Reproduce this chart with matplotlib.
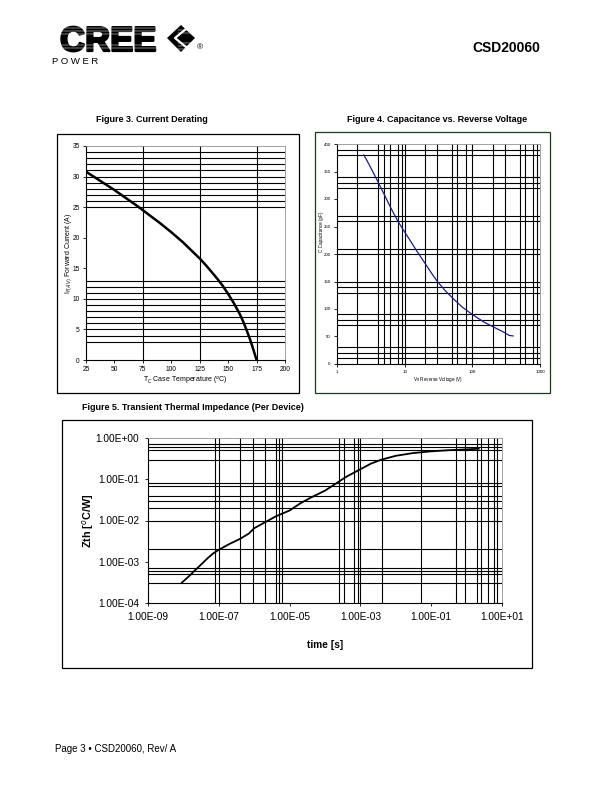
import matplotlib
matplotlib.use('Agg')
import matplotlib.pyplot as plt
import matplotlib.patheffects as pe
from matplotlib.patches import Rectangle, Polygon
from matplotlib.lines import Line2D
from matplotlib.ticker import FixedLocator, NullLocator, FuncFormatter

plt.rcParams['font.family'] = ['Liberation Sans', 'DejaVu Sans']

W, H = 612, 792

# Figure 3 - current derating
temp_c = [25, 30, 40, 50, 60, 70, 80, 90, 100, 110, 120, 125, 130, 140, 145, 150, 155, 160,
          163, 166, 169, 171, 173, 174, 175]
current_a = [30.8, 30.2, 29.0, 27.8, 26.5, 25.2, 23.8, 22.4, 20.9, 19.3, 17.5, 16.6, 15.6, 13.4,
             12.2, 10.8, 9.3, 7.6, 6.4, 5.0, 3.5, 2.4, 1.2, 0.6, 0.0]
f3_vgrid = [75, 125, 175]
f3_hgrid = [3, 4, 5, 6, 7, 8, 9, 10, 11, 12, 13, 25, 26, 27, 28, 29, 30, 31, 32, 33, 34]

# Figure 4 - capacitance vs reverse voltage
voltage_v = [2.5, 3, 4, 5, 6, 7, 8, 10, 12, 15, 20, 25, 30, 40, 50, 70, 100, 150, 200, 250, 300, 350, 400]
cap_pf = [380, 362, 332, 308, 288, 272, 259, 240, 225, 206, 183, 165, 151, 133, 121, 104, 90, 76, 68,
          62, 57, 52, 51]
f4_vgrid = [2, 4, 5, 6, 8, 9, 10, 20, 30, 50, 60, 80, 100, 200, 300, 500, 600, 800, 900]
f4_hgrid = [10, 20, 30, 70, 80, 90, 130, 140, 150, 200, 210, 260, 270, 320, 330, 340, 380, 390]

# Figure 5 - transient thermal impedance
time_s = [9e-9, 1.5e-8, 2e-8, 3e-8, 5e-8, 7e-8, 1e-7, 2e-7, 4e-7, 7e-7, 1e-6, 2e-6, 4e-6, 1e-5,
          2e-5, 4e-5, 1e-4, 2e-4, 4e-4, 1e-3, 2e-3, 4e-3, 1e-2, 3e-2, 0.1, 0.3, 1, 2.2]
zth = [3.1e-4, 4.6e-4, 5.9e-4, 8.2e-4, 1.25e-3, 1.6e-3, 1.95e-3, 2.7e-3, 3.6e-3, 4.8e-3, 6.5e-3,
       9e-3, 1.25e-2, 1.75e-2, 2.6e-2, 3.6e-2, 5.3e-2, 7.8e-2, 0.115, 0.175, 0.24, 0.30, 0.37,
       0.43, 0.475, 0.505, 0.53, 0.55]
f5_vgrid = [8e-8, 1e-7, 4e-7, 9e-7, 2e-6, 4e-6, 5e-6, 6e-6, 2.5e-4, 3.5e-4, 6.5e-4, 8.5e-4, 1e-3,
            4e-3, 5e-2, 0.5, 0.9, 2, 2.5, 4, 6, 7]
f5_hgrid = [0.7, 0.6, 0.5, 0.3, 0.08, 0.07, 0.04, 0.03, 0.02, 0.01, 0.002, 7e-4, 6e-4, 5e-4, 3e-4]


def box(x0, y0, x1, y1):
    # axes rect from page pixel corners
    return [x0 / W, 1 - y1 / H, (x1 - x0) / W, (y1 - y0) / H]


def frame(x0, y0, x1, y1, color='black'):
    fig.add_artist(Rectangle((x0 / W, 1 - y1 / H), (x1 - x0) / W, (y1 - y0) / H,
                             transform=fig.transFigure, fill=False, ec=color, lw=0.9))


def ftext(x, y, s, **kw):
    return fig.text(x / W, 1 - y / H, s, **kw)


def hline(x0, x1, y, **kw):
    fig.add_artist(Line2D([x0 / W, x1 / W], [1 - y / H, 1 - y / H], transform=fig.transFigure, **kw))


def style(ax, fs):
    for s in ['top', 'right']:
        ax.spines[s].set_color('#909090')
        ax.spines[s].set_linewidth(0.6)
    for s in ['left', 'bottom']:
        ax.spines[s].set_linewidth(0.8)
    ax.tick_params(labelsize=fs, length=2.5, width=0.6, pad=2)
    ax.tick_params(which='minor', length=0)


fig = plt.figure(figsize=(6.12, 7.92), dpi=100)

# header / logo
logo = ftext(60, 51, 'CREE', fontsize=25, fontweight='bold', va='baseline', ha='left')
logo.set_path_effects([pe.withStroke(linewidth=1.6, foreground='black')])
for yy in [28, 31, 34, 45, 48]:
    hline(57, 166, yy, color='white', lw=0.35, zorder=10)
fig.add_artist(Polygon([(167 / W, 1 - 38 / H), (181 / W, 1 - 25 / H), (195 / W, 1 - 38 / H),
                        (181 / W, 1 - 52 / H)], closed=True, fc='black', transform=fig.transFigure))
for yy in [30, 33, 43, 46, 49]:
    hline(178, 195, yy, color='white', lw=0.35, zorder=10)
fig.add_artist(Line2D([186 / W, 175 / W, 186 / W], [1 - 29 / H, 1 - 38 / H, 1 - 47 / H], color='white',
                      lw=1.6, transform=fig.transFigure, zorder=11))
ftext(197, 48, '®', fontsize=6, va='center')
ftext(52, 61, 'P O W E R', fontsize=6.8, va='center')
ftext(540, 48, 'CSD20060', fontsize=10, fontweight='bold', ha='right', va='center')
ftext(55, 749, 'Page 3 \u2022 CSD20060, Rev/ A', fontsize=7, va='center')

# Figure 3
ftext(152, 119, 'Figure 3. Current Derating', fontsize=6.5, fontweight='bold', ha='center', va='center')
frame(57, 134, 299, 393)
ax3 = fig.add_axes(box(86, 146, 285, 360))
for v in f3_vgrid:
    ax3.axvline(v, color='black', lw=0.8)
for h in f3_hgrid:
    ax3.axhline(h, color='black', lw=0.8)
ax3.plot(temp_c, current_a, color='black', lw=1.8, solid_capstyle='butt')
ax3.set_xlim(25, 200)
ax3.set_ylim(0, 35)
ax3.set_xticks(range(25, 201, 25))
ax3.set_yticks(range(0, 36, 5))
style(ax3, 4.8)
ax3.set_xlabel('T$_C$ Case Temperature ($^o$C)', fontsize=5, va='center')
ax3.xaxis.set_label_coords(0.5, -0.1)
ax3.set_ylabel('I$_{F(AV)}$ Forward Current (A)', fontsize=5, va='center')
ax3.yaxis.set_label_coords(-0.088, 0.5)

# Figure 4
ftext(437, 119, 'Figure 4. Capacitance vs. Reverse Voltage', fontsize=6.5, fontweight='bold',
      ha='center', va='center')
frame(315, 132, 550, 393, color='#1d3b1d')
ax4 = fig.add_axes(box(337, 144, 540, 364))
ax4.set_xscale('log')
for v in f4_vgrid:
    ax4.axvline(v, color='black', lw=0.8)
for h in f4_hgrid:
    ax4.axhline(h, color='black', lw=0.8)
ax4.plot(voltage_v, cap_pf, color='#1c1c8c', lw=0.9)
ax4.set_xlim(1, 1000)
ax4.set_ylim(0, 400)
ax4.xaxis.set_major_locator(FixedLocator([1, 10, 100, 1000]))
ax4.xaxis.set_minor_locator(NullLocator())
ax4.xaxis.set_major_formatter(FuncFormatter(lambda v, p: '%g' % v))
ax4.set_yticks(range(0, 401, 50))
style(ax4, 3.2)
ax4.set_xlabel('V$_R$ Reverse Voltage (V)', fontsize=3.3, va='center')
ax4.xaxis.set_label_coords(0.5, -0.072)
ax4.set_ylabel('C Capacitance (pF)', fontsize=3.3, va='center')
ax4.yaxis.set_label_coords(-0.075, 0.6)

# Figure 5
ftext(82, 408, 'Figure 5. Transient Thermal Impedance (Per Device)', fontsize=6.5, fontweight='bold',
      ha='left', va='center')
frame(62, 420, 532, 668)
ax5 = fig.add_axes(box(148, 438, 502, 603))
ax5.set_xscale('log')
ax5.set_yscale('log')
for v in f5_vgrid:
    ax5.axvline(v, color='black', lw=0.8)
for h in f5_hgrid:
    ax5.axhline(h, color='black', lw=0.8)
ax5.plot(time_s, zth, color='black', lw=1.3)
ax5.set_xlim(1e-9, 10)
ax5.set_ylim(1e-4, 1)
sci = FuncFormatter(lambda v, p: '%.2E' % v)
ax5.xaxis.set_major_locator(FixedLocator([1e-9, 1e-7, 1e-5, 1e-3, 1e-1, 1e1]))
ax5.yaxis.set_major_locator(FixedLocator([1e-4, 1e-3, 1e-2, 1e-1, 1]))
ax5.xaxis.set_minor_locator(NullLocator())
ax5.yaxis.set_minor_locator(NullLocator())
ax5.xaxis.set_major_formatter(sci)
ax5.yaxis.set_major_formatter(sci)
style(ax5, 7.3)
ax5.tick_params(pad=4)
ax5.set_xlabel('time [s]', fontsize=7.3, fontweight='bold', va='center')
ax5.xaxis.set_label_coords(0.5, -0.255)
ax5.set_ylabel('Zth [$^o$C/W]', fontsize=7.8, fontweight='bold', va='center')
ax5.yaxis.set_label_coords(-0.17, 0.5)

fig.savefig('out.png', dpi=100)
